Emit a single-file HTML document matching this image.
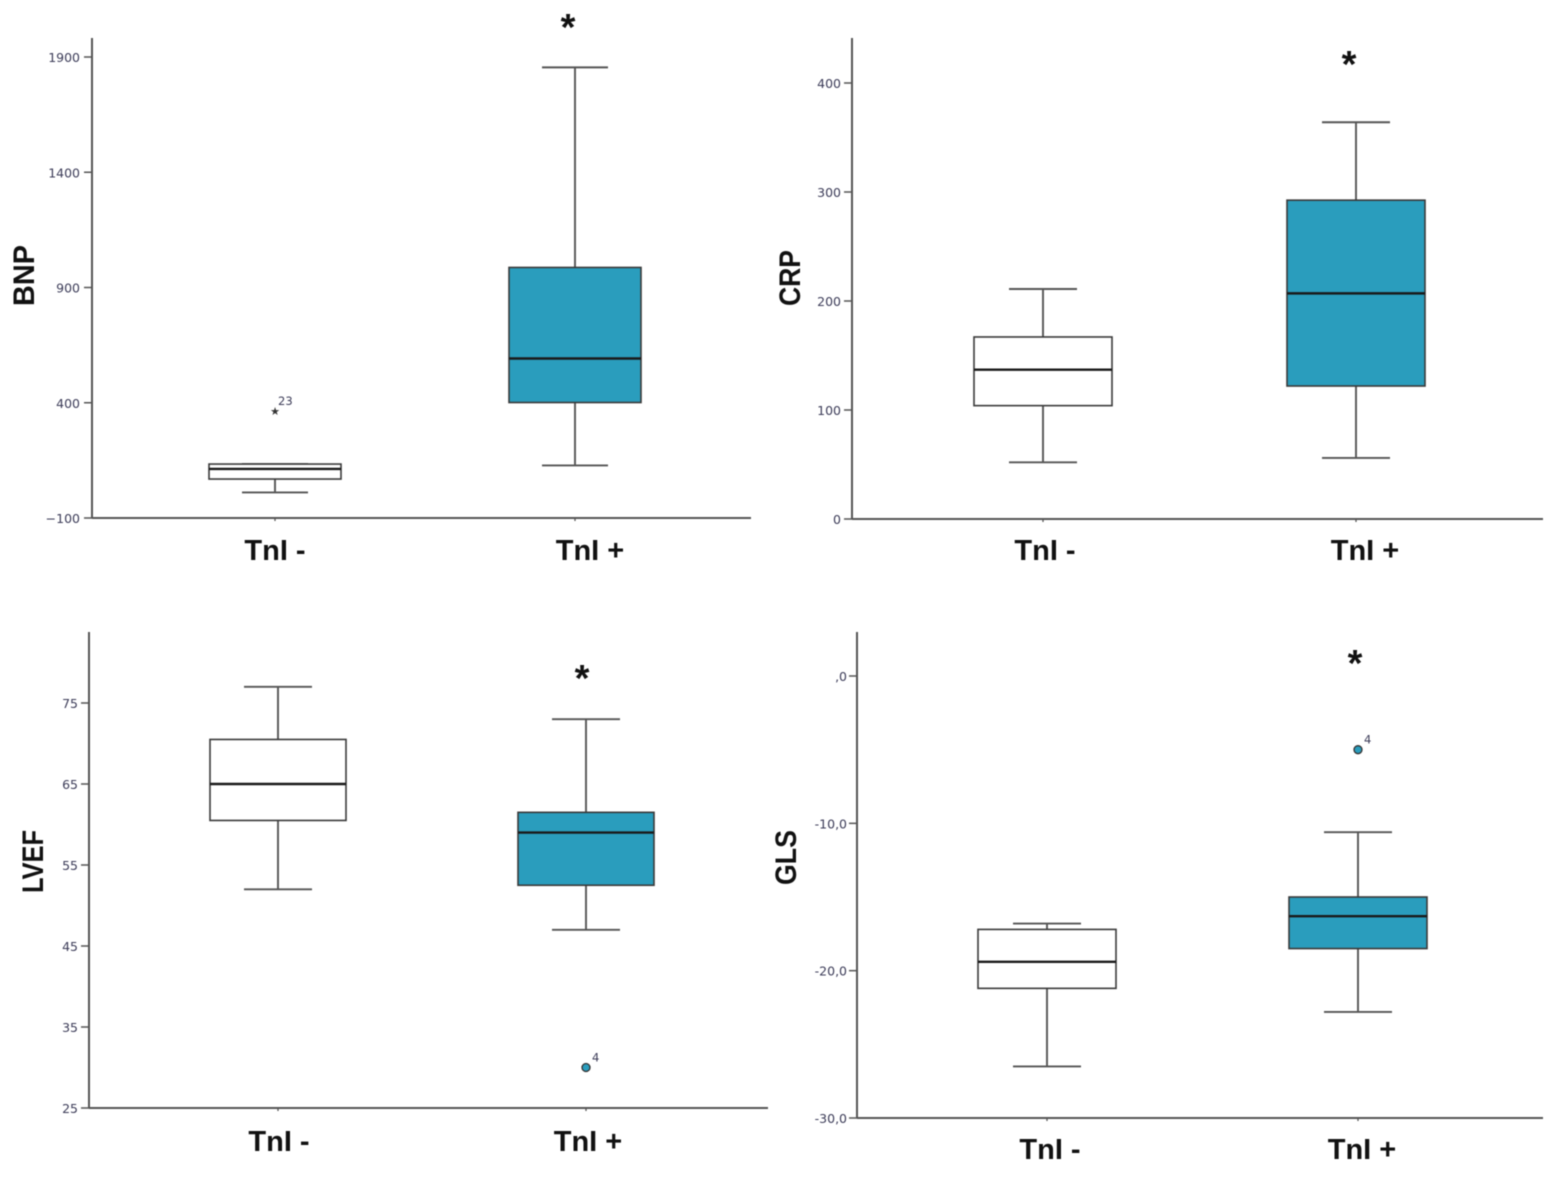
<!DOCTYPE html>
<html lang="en">
<head>
<meta charset="utf-8">
<title>Box plots of BNP, CRP, LVEF and GLS by TnI status</title>
<style>
  html, body { margin: 0; padding: 0; background: #fff; }
  #figure { display: block; width: 1561px; height: 1182px; filter: blur(0.5px); }
  text { font-family: "Liberation Sans", sans-serif; }
  .tick-label { font-family: "DejaVu Sans", sans-serif; font-size: 12.5px; fill: #3c3c58; text-anchor: end; }
  .cat-label { font-size: 29px; font-weight: 700; fill: #111; text-anchor: middle; }
  .axis-title { font-size: 30px; font-weight: 700; fill: #111; text-anchor: middle; }
  .sig { font-size: 38px; font-weight: 700; fill: #111; text-anchor: middle; }
  .out-label { font-family: "DejaVu Sans", sans-serif; font-size: 11.5px; fill: #3c3c58; }
</style>
</head>
<body>
<svg id="figure" xmlns="http://www.w3.org/2000/svg" width="1561" height="1182" viewBox="0 0 1561 1182"></svg>
<script>
// Shared category labels
const categories = ["TnI -", "TnI +"];

// BNP: [lower whisker, Q1, median, Q3, upper whisker]
const bnpTicks = [-100, 400, 900, 1400, 1900];
const bnpTickLabels = ["\u2212100", "400", "900", "1400", "1900"];
const bnpNegative = [11, 69, 113, 134, 134];
const bnpPositive = [128, 401, 592, 987, 1855];
const bnpNegativeOutliers = [364];
const bnpNegativeOutlierIds = ["23"];
const bnpPositiveOutliers = [];
const bnpPositiveOutlierIds = [];

// CRP
const crpTicks = [0, 100, 200, 300, 400];
const crpTickLabels = ["0", "100", "200", "300", "400"];
const crpNegative = [52, 104, 137, 167, 211];
const crpPositive = [56, 122, 207, 292.5, 364];
const crpNegativeOutliers = [];
const crpNegativeOutlierIds = [];
const crpPositiveOutliers = [];
const crpPositiveOutlierIds = [];

// LVEF
const lvefTicks = [25, 35, 45, 55, 65, 75];
const lvefTickLabels = ["25", "35", "45", "55", "65", "75"];
const lvefNegative = [52, 60.5, 65, 70.5, 77];
const lvefPositive = [47, 52.5, 59, 61.5, 73];
const lvefNegativeOutliers = [];
const lvefNegativeOutlierIds = [];
const lvefPositiveOutliers = [30];
const lvefPositiveOutlierIds = ["4"];

// GLS
const glsTicks = [-30, -20, -10, 0];
const glsTickLabels = ["-30,0", "-20,0", "-10,0", ",0"];
const glsNegative = [-26.5, -21.2, -19.4, -17.2, -16.8];
const glsPositive = [-22.8, -18.5, -16.3, -15, -10.6];
const glsNegativeOutliers = [];
const glsNegativeOutlierIds = [];
const glsPositiveOutliers = [-5];
const glsPositiveOutlierIds = ["4"];

// Panel layout (separate from the data above)
const panels = [
  { key: "bnp", title: "BNP", ticks: bnpTicks, tickLabels: bnpTickLabels,
    series: [bnpNegative, bnpPositive],
    outliers: [bnpNegativeOutliers, bnpPositiveOutliers],
    outlierIds: [bnpNegativeOutlierIds, bnpPositiveOutlierIds],
    outlierShape: "star",
    left: 92, right: 751, top: 38, bottom: 518, yFirst: 518, yLast: 57,
    tickGap: 12,
    centers: [275, 575], halfBox: 66, halfCap: 33,
    labelX: [275, 590], labelY: 560, titleX: 34, titleY: 275.5, titleLen: 61,
    sigX: 568, sigY: 40 },
  { key: "crp", title: "CRP", ticks: crpTicks, tickLabels: crpTickLabels,
    series: [crpNegative, crpPositive],
    outliers: [crpNegativeOutliers, crpPositiveOutliers],
    outlierIds: [crpNegativeOutlierIds, crpPositiveOutlierIds],
    outlierShape: "circle",
    left: 852, right: 1543, top: 38, bottom: 519, yFirst: 519, yLast: 83,
    tickGap: 11,
    centers: [1043, 1356], halfBox: 69, halfCap: 34,
    labelX: [1045, 1365], labelY: 560, titleX: 800, titleY: 278, titleLen: 56,
    sigX: 1349, sigY: 77 },
  { key: "lvef", title: "LVEF", ticks: lvefTicks, tickLabels: lvefTickLabels,
    series: [lvefNegative, lvefPositive],
    outliers: [lvefNegativeOutliers, lvefPositiveOutliers],
    outlierIds: [lvefNegativeOutlierIds, lvefPositiveOutlierIds],
    outlierShape: "circle",
    left: 89, right: 768, top: 632, bottom: 1108, yFirst: 1108, yLast: 703,
    tickGap: 11,
    centers: [278, 586], halfBox: 68, halfCap: 34,
    labelX: [279, 588], labelY: 1151, titleX: 43, titleY: 861.5, titleLen: 63,
    sigX: 582, sigY: 691 },
  { key: "gls", title: "GLS", ticks: glsTicks, tickLabels: glsTickLabels,
    series: [glsNegative, glsPositive],
    outliers: [glsNegativeOutliers, glsPositiveOutliers],
    outlierIds: [glsNegativeOutlierIds, glsPositiveOutlierIds],
    outlierShape: "circle",
    left: 857, right: 1543, top: 632, bottom: 1118, yFirst: 1118, yLast: 676,
    tickGap: 10,
    centers: [1047, 1358], halfBox: 69, halfCap: 34,
    labelX: [1050, 1362], labelY: 1159, titleX: 796, titleY: 857.5, titleLen: 55,
    sigX: 1355, sigY: 676 }
];

const groupFills = ["#ffffff", "#2a9dbd"];
const groupKeys = ["tni-negative", "tni-positive"];
const SVG_NS = "http://www.w3.org/2000/svg";
const svg = document.getElementById("figure");

function make(parent, tag, attrs, text) {
  const el = document.createElementNS(SVG_NS, tag);
  for (const k in attrs) el.setAttribute(k, attrs[k]);
  if (text !== undefined) el.textContent = text;
  parent.appendChild(el);
  return el;
}

function yScale(p) {
  const v0 = p.ticks[0];
  const v1 = p.ticks[p.ticks.length - 1];
  return function (v) {
    return p.yFirst + (v - v0) * (p.yLast - p.yFirst) / (v1 - v0);
  };
}

const lineStyle = { stroke: "#555555", "stroke-width": 1.9, fill: "none" };

panels.forEach(function (p) {
  const y = yScale(p);
  const g = make(svg, "g", {});
  
  

  const yAxis = make(g, "line", { x1: p.left, x2: p.left, y1: p.top, y2: p.bottom, stroke: "#555", "stroke-width": 2 });
  
  

  const xAxis = make(g, "line", { x1: p.left, x2: p.right, y1: p.bottom, y2: p.bottom, stroke: "#555", "stroke-width": 2 });
  
  

  p.ticks.forEach(function (t, i) {
    const tick = make(g, "line", { x1: p.left - 8, x2: p.left, y1: y(t), y2: y(t), stroke: "#555", "stroke-width": 1.5 });
    
    

    const label = make(g, "text", { class: "tick-label", x: p.left - p.tickGap, y: y(t) + 5 }, p.tickLabels[i]);
    
    
  });

  const title = make(g, "text", {
    class: "axis-title", x: p.titleX, y: p.titleY,
    textLength: p.titleLen, lengthAdjust: "spacingAndGlyphs",
    transform: "rotate(-90 " + p.titleX + " " + p.titleY + ")"
  }, p.title);
  
  

  p.series.forEach(function (s, i) {
    const cx = p.centers[i];
    const low = y(s[0]), q1 = y(s[1]), med = y(s[2]), q3 = y(s[3]), high = y(s[4]);
    const box = make(g, "g", {});
    
    

    make(box, "line", Object.assign({ x1: cx, x2: cx, y1: q1, y2: low }, lineStyle));
    make(box, "line", Object.assign({ x1: cx, x2: cx, y1: q3, y2: high }, lineStyle));
    make(box, "line", Object.assign({ x1: cx - p.halfCap, x2: cx + p.halfCap, y1: low, y2: low }, lineStyle));
    make(box, "line", Object.assign({ x1: cx - p.halfCap, x2: cx + p.halfCap, y1: high, y2: high }, lineStyle));
    make(box, "rect", {
      x: cx - p.halfBox, y: q3, width: p.halfBox * 2, height: q1 - q3,
      fill: groupFills[i], stroke: "#3a3a3a", "stroke-width": 1.6
    });
    make(box, "line", { x1: cx - p.halfBox, x2: cx + p.halfBox, y1: med, y2: med, stroke: "#1a1a1a", "stroke-width": 2.4 });

    const xTick = make(g, "line", { x1: cx, x2: cx, y1: p.bottom, y2: p.bottom + 3, stroke: "#555", "stroke-width": 1.3 });
    
    

    const cat = make(g, "text", { class: "cat-label", x: p.labelX[i], y: p.labelY }, categories[i]);
    
    

    p.outliers[i].forEach(function (v, j) {
      const oy = y(v);
      let mark;
      if (p.outlierShape === "star") {
        mark = make(g, "text", { x: cx, y: oy + 4, "text-anchor": "middle", "font-size": 11, fill: "#333", style: 'font-family:"DejaVu Sans",sans-serif' }, "\u2605");
      } else {
        mark = make(g, "circle", { cx: cx, cy: oy, r: 4, fill: groupFills[i], stroke: "#333", "stroke-width": 1.3 });
      }
      
      

      const id = make(g, "text", { class: "out-label", x: cx + (p.outlierShape === "star" ? 3 : 6), y: oy - 6 }, p.outlierIds[i][j]);
      
      
    });
  });

  const sig = make(g, "text", { class: "sig", x: p.sigX, y: p.sigY }, "*");
  
  
});
</script>
</body>
</html>
